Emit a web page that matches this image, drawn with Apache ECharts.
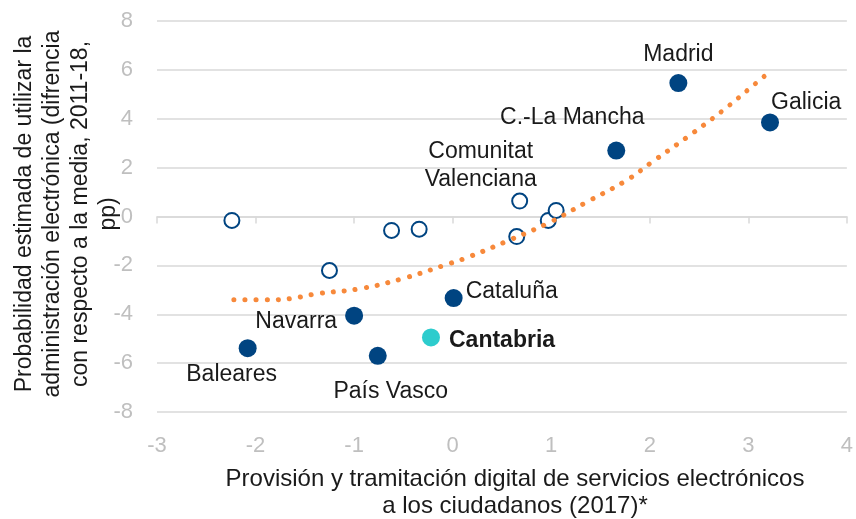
<!DOCTYPE html>
<html>
<head>
<meta charset="utf-8">
<script src="https://cdn.jsdelivr.net/npm/echarts@6/dist/echarts.min.js"></script>
<style>
  html, body { margin: 0; padding: 0; background: #ffffff; }
  #chart { width: 856px; height: 519px; }
</style>
</head>
<body>
<div id="chart"></div>
<script>
// Regions highlighted with a name
var regionNames = ['Madrid', 'Galicia', 'C.-La Mancha', 'Cataluña', 'Navarra', 'Baleares', 'País Vasco'];
var regionX = [2.29, 3.22, 1.66, 0.01, -1.0, -2.08, -0.76];
var regionY = [5.46, 3.85, 2.70, -3.34, -4.06, -5.39, -5.70];

// Remaining regions (hollow markers)
var otherNames = ['', '', '', '', '', 'Comunitat\nValenciana', '', ''];
var otherX = [-2.24, -1.25, -0.62, -0.34, 0.65, 0.68, 0.97, 1.05];
var otherY = [-0.16, -2.21, -0.57, -0.52, -0.82, 0.63, -0.16, 0.25];

// Cantabria
var cantName = 'Cantabria';
var cantX = -0.22;
var cantY = -4.95;

// Polynomial trend line, read along its course
var trendX = [-2.22, -1.85, -1.61, -1.38, -0.93, -0.49, -0.05, 0.16, 0.58, 0.99, 1.36, 1.76, 2.03, 2.38, 2.73, 3.07, 3.16];
var trendY = [-3.41, -3.41, -3.34, -3.16, -2.95, -2.52, -1.95, -1.66, -0.96, -0.23, 0.59, 1.47, 2.25, 3.25, 4.30, 5.43, 5.73];

// Axis ticks
var xTicks = [-3, -2, -1, 0, 1, 2, 3, 4];
var yTicks = [-8, -6, -4, -2, 0, 2, 4, 6, 8];

var FONT = "'Liberation Sans', Arial, sans-serif";
var NAVY = '#004481';
var CYAN = '#2DCCCD';
var ORANGE = '#F7893B';
var TXT = '#1a1a1a';
var GRID = '#D9D9D9';
var TICKTXT = '#BFBFBF';
var LBL = 23;

// Label placement per named region: [align, dx, dy]
var labelPlace = {
  'Madrid': ['center', 0, -28],
  'Galicia': ['left', 1, -20],
  'C.-La Mancha': ['center', -44, -33],
  'Cataluña': ['left', 12, -6],
  'Navarra': ['right', -17, 6],
  'Baleares': ['center', -16, 26],
  'País Vasco': ['center', 13, 36],
  'Comunitat\nValenciana': ['center', -39, -35]
};

function labelFor(name) {
  var p = labelPlace[name];
  if (!p) return { show: false };
  return {
    show: true,
    position: 'inside',
    align: p[0],
    verticalAlign: 'middle',
    offset: [p[1], p[2]],
    formatter: name,
    color: TXT,
    fontFamily: FONT,
    fontSize: LBL,
    lineHeight: 28
  };
}

var regionData = regionNames.map(function (n, i) {
  return { name: n, value: [regionX[i], regionY[i]], label: labelFor(n) };
});
var otherData = otherNames.map(function (n, i) {
  return { name: n, value: [otherX[i], otherY[i]], label: labelFor(n) };
});
var trendData = trendX.map(function (x, i) { return [x, trendY[i]]; });

var chart = echarts.init(document.getElementById('chart'), null, { renderer: 'canvas' });

var xMin = xTicks[0], xMax = xTicks[xTicks.length - 1];
var yMin = yTicks[0], yMax = yTicks[yTicks.length - 1];

chart.setOption({
  animation: false,
  backgroundColor: '#ffffff',
  grid: { left: 157, right: 8, top: 21, bottom: 107, containLabel: false },
  xAxis: [
    {
      // horizontal axis line through zero, with tick marks below it
      type: 'value', min: xMin, max: xMax, interval: 1, position: 'bottom',
      axisLine: { show: true, onZero: true, lineStyle: { color: GRID, width: 1.5 } },
      axisTick: { show: true, length: 7, lineStyle: { color: GRID, width: 1.5 } },
      axisLabel: { show: false }, splitLine: { show: false }
    },
    {
      // tick labels along the bottom edge
      type: 'value', min: xMin, max: xMax, interval: 1, position: 'bottom',
      axisLine: { show: false, onZero: false }, axisTick: { show: false }, splitLine: { show: false },
      axisLabel: { color: TICKTXT, fontSize: 22, fontFamily: FONT, margin: 23 }
    }
  ],
  yAxis: {
    type: 'value', min: yMin, max: yMax, interval: 2,
    axisLine: { show: false }, axisTick: { show: false },
    splitLine: { show: true, lineStyle: { color: GRID, width: 1.5 } },
    axisLabel: { color: TICKTXT, fontSize: 22, fontFamily: FONT, margin: 24 }
  },
  graphic: [
    {
      type: 'text', x: 67, y: 214, rotation: Math.PI / 2,
      style: {
        text: 'Probabilidad estimada de utilizar la\nadministración electrónica (difrencia\ncon respecto a la media, 2011-18,\npp)',
        align: 'center', verticalAlign: 'middle',
        fill: TXT, font: LBL + 'px ' + FONT, lineHeight: 28
      }
    },
    {
      type: 'text', x: 515, y: 493,
      style: {
        text: 'Provisión y tramitación digital de servicios electrónicos\na los ciudadanos (2017)*',
        align: 'center', verticalAlign: 'middle',
        fill: TXT, font: '24px ' + FONT, lineHeight: 27
      }
    }
  ],
  series: [
    {
      type: 'scatter', data: otherData,
      symbol: 'emptyCircle', symbolSize: 15,
      itemStyle: { color: NAVY, borderColor: NAVY, borderWidth: 2, opacity: 1 },
      z: 2
    },
    {
      type: 'scatter', data: regionData,
      symbol: 'circle', symbolSize: 18,
      itemStyle: { color: NAVY, opacity: 1 },
      z: 3
    },
    {
      type: 'scatter',
      data: [{ name: cantName, value: [cantX, cantY] }],
      symbol: 'circle', symbolSize: 18,
      itemStyle: { color: CYAN, opacity: 1 },
      label: {
        show: true, position: 'inside', align: 'left', verticalAlign: 'middle',
        offset: [18, 3], formatter: cantName, color: TXT,
        fontFamily: FONT, fontSize: LBL, fontWeight: 'bold'
      },
      z: 3
    },
    {
      type: 'line', data: trendData, smooth: 0.4,
      showSymbol: false, symbol: 'none',
      lineStyle: { color: ORANGE, width: 5, type: [0.1, 11], cap: 'round', opacity: 1 },
      z: 5, silent: true
    }
  ]
});
</script>
</body>
</html>
